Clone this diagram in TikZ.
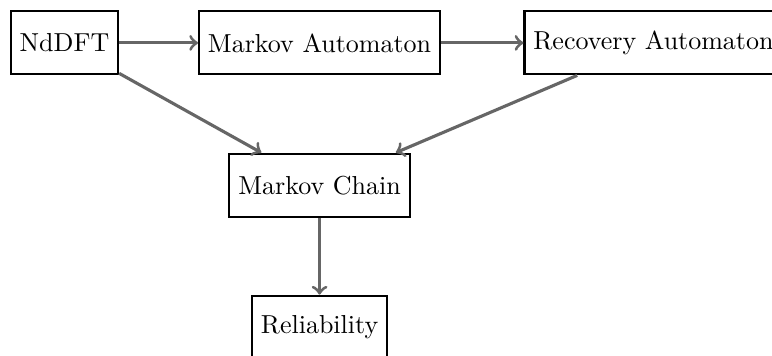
\documentclass[tikz,border=0pt]{standalone}
\begin{document}
\begin{tikzpicture}[
  box/.style={draw=black, line width=0.8pt, minimum height=24.2pt, inner xsep=3.4pt, fill=white},
  flow/.style={->, draw=black!60, line width=1.2pt}
]
\useasboundingbox (0pt,0pt) rectangle (296.9pt,-136.9pt);

\node[box] (nd)  at (24.8pt,-16.5pt)   {NdDFT};
\node[box] (ma)  at (122.9pt,-16.5pt)  {Markov Automaton};
\node[box] (ra)  at (251.3pt,-16.5pt)  {Recovery Automaton};
\node[box] (mc)  at (122.9pt,-71.2pt)  {Markov Chain};
\node[box] (rel) at (122.9pt,-125.8pt) {Reliability};

\draw[flow] (nd) -- (ma);
\draw[flow] (ma) -- (ra);
\draw[flow] (nd) -- (mc);
\draw[flow] (ra) -- (mc);
\draw[flow] (mc) -- (rel);
\end{tikzpicture}
\end{document}
